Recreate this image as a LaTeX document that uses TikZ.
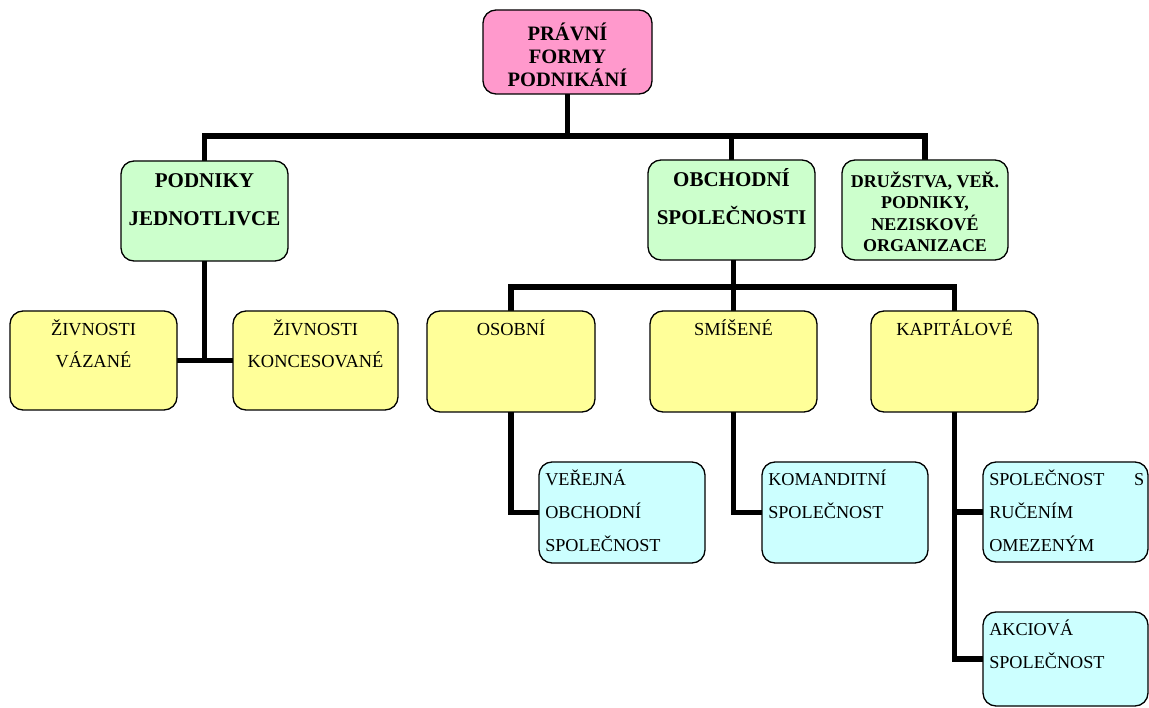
\documentclass[tikz,border=0pt]{standalone}
\usepackage{fontspec}
\setmainfont{Liberation Serif}
\usetikzlibrary{positioning,backgrounds}
\definecolor{FPink}{HTML}{FF99CC}
\definecolor{FGreen}{HTML}{CCFFCC}
\definecolor{FYellow}{HTML}{FFFF99}
\definecolor{FCyan}{HTML}{CCFFFF}
\tikzset{
    orgbox/.style = {draw, rounded corners=13pt, line width=1.3pt, inner sep=0pt},
    pinkbox/.style = {orgbox, fill=FPink, minimum width=169pt, minimum height=84pt},
    greenbox/.style = {orgbox, fill=FGreen, minimum width=167pt, minimum height=100pt},
    yellowbox/.style = {orgbox, fill=FYellow, minimum width=167pt, minimum height=100pt},
    cyanbox/.style = {orgbox, fill=FCyan, minimum width=166pt, minimum height=101pt},
    titletext/.style = {inner sep=0pt, align=center, font=\bfseries\fontsize{20.5}{23}\selectfont},
    greentext/.style = {inner sep=0pt, align=center, font=\bfseries\fontsize{21}{38}\selectfont},
    smallgreentext/.style = {inner sep=0pt, align=center, font=\bfseries\fontsize{18}{21.5}\selectfont},
    yellowtext/.style = {inner sep=0pt, align=center, font=\fontsize{18.4}{32}\selectfont},
    cyantext/.style = {inner sep=0pt, align=left, font=\fontsize{18.2}{33}\selectfont},
    conn/.style = {draw, line width=5.5pt, line cap=rect}
}
\begin{document}
\begin{tikzpicture}[x=1pt,y=-1pt]
\useasboundingbox (0,0) rectangle (1149,708);
% top
\node[pinkbox] (pravni) at (567.5,52) {};
\node[titletext, below=12.9pt of pravni.north] (pravniT) {\strut PRÁVNÍ\\FORMY\\PODNIKÁNÍ};
% second row
\node[greenbox] (podn) at (204.5,211) {};
\node[greentext, below=0pt of podn.north] (podnT) {\strut PODNIKY\\JEDNOTLIVCE};
\node[greenbox] (obch) at (731.5,210) {};
\node[greentext, below=0pt of obch.north] (obchT) {\strut OBCHODNÍ\\SPOLEČNOSTI};
\node[greenbox, minimum width=166pt] (druz) at (925,210) {};
\node[smallgreentext, below=12pt of druz.north] (druzT) {\strut DRUŽSTVA, VEŘ.\\PODNIKY,\\NEZISKOVÉ\\ORGANIZACE};
% third row
\node[yellowbox, minimum height=99pt] (vaz) at (93.5,360.5) {};
\node[yellowtext, below=2.6pt of vaz.north] (vazT) {\strut ŽIVNOSTI\\VÁZANÉ};
\node[yellowbox, minimum width=165pt, minimum height=99pt] (konc) at (315.5,360.5) {};
\node[yellowtext, below=2.6pt of konc.north] (koncT) {\strut ŽIVNOSTI\\KONCESOVANÉ};
\node[yellowbox, minimum width=168pt, minimum height=101pt] (osob) at (511,361.5) {};
\node[yellowtext, below=2.6pt of osob.north] (osobT) {\strut OSOBNÍ};
\node[yellowbox, minimum height=101pt] (smis) at (733.5,361.5) {};
\node[yellowtext, below=2.6pt of smis.north] (smisT) {\strut SMÍŠENÉ};
\node[yellowbox, minimum height=101pt] (kap) at (954.5,361.5) {};
\node[yellowtext, below=2.6pt of kap.north] (kapT) {\strut KAPITÁLOVÉ};
% fourth row
\node[cyanbox] (vos) at (622,512.5) {};
\node[cyantext, below right=0.9pt and 6.7pt of vos.north west] (vosT) {\strut VEŘEJNÁ\\OBCHODNÍ\\SPOLEČNOST};
\node[cyanbox] (ks) at (845,512.5) {};
\node[cyantext, below right=0.9pt and 6.7pt of ks.north west] (ksT) {\strut KOMANDITNÍ\\SPOLEČNOST};
\node[cyanbox, minimum width=165pt, minimum height=100pt] (sro) at (1065.5,512) {};
\node[cyantext, text width=155pt, below right=0.9pt and 6.7pt of sro.north west] (sroT) {\strut SPOLEČNOST\hfill S\\RUČENÍM\\OMEZENÝM};
\node[cyanbox, minimum width=165pt, minimum height=94pt] (akc) at (1065.5,659) {};
\node[cyantext, below right=0.9pt and 6.7pt of akc.north west] (akcT) {\strut AKCIOVÁ\\SPOLEČNOST};
% connectors
\coordinate (bus1) at (0,136);
\coordinate (bus2) at (0,287);
\begin{scope}[on background layer]
\draw[conn] (pravni.south) -- (pravni.south |- bus1);
\draw[conn] (podn.north) -- (podn.north |- bus1) -- (druz.north |- bus1) -- (druz.north);
\draw[conn] (obch.north) -- (obch.north |- bus1);
\draw[conn] (podn.south) -- (podn.south |- vaz.east);
\draw[conn] (vaz.east) -- (vaz.east -| konc.west);
\draw[conn] (smis.north |- obch.south) -- (smis.north);
\draw[conn] (osob.north) -- (osob.north |- bus2) -- (kap.north |- bus2) -- (kap.north);
\draw[conn] (osob.south) |- (vos.west);
\draw[conn] (smis.south) |- (ks.west);
\draw[conn] (kap.south) |- (sro.west);
\draw[conn] (kap.south) |- (akc.west);
\end{scope}
\end{tikzpicture}
\end{document}
